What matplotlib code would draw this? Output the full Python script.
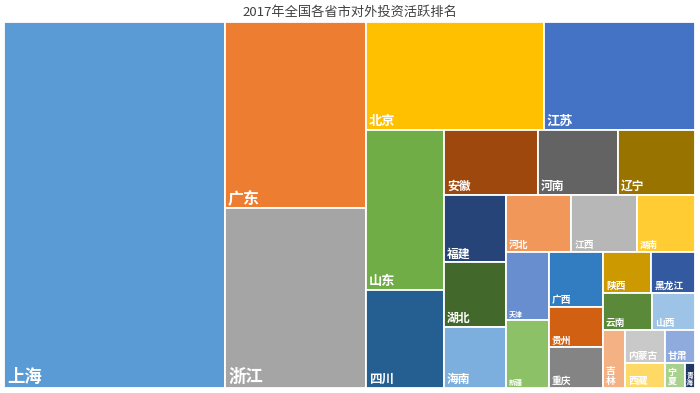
import matplotlib
matplotlib.use("Agg")
import matplotlib.pyplot as plt
from matplotlib.patches import Rectangle

plt.rcParams["font.family"] = ["Noto Sans CJK SC", "DejaVu Sans"]

# ── Data (roughly proportional to tile area) ─────────────────────────────────
provinces = ["上海", "广东", "浙江", "北京", "江苏", "山东", "四川", "安徽", "河南",
             "辽宁", "福建", "湖北", "海南", "河北", "江西", "湖南", "天津", "新疆",
             "广西", "贵州", "重庆", "陕西", "黑龙江", "云南", "山西", "吉林",
             "内蒙古", "甘肃", "西藏", "宁夏", "青海"]
values = [809, 262, 254, 192, 163, 125, 76, 61, 52,
          50, 42, 40, 38, 37, 37, 33, 29, 29,
          30, 22, 22, 20, 18, 18, 16, 13,
          13, 10, 10, 5, 2.5]

# Strip structure of the Excel treemap: tiles per strip and its direction
# ("V" = strip down the left side, "H" = strip across the top)
strip_counts = [1, 2, 2, 2, 3, 3, 3, 2, 3, 2, 2, 1, 2, 3]
strip_dirs = "VVHVHVHVVHHVHH"

# ── Style ─────────────────────────────────────────────────────────────────────
colors = ["#5B9BD5", "#ED7D31", "#A5A5A5", "#FFC000", "#4472C4", "#70AD47",
          "#255E91", "#9E480E", "#636363", "#997300", "#264478", "#43682B",
          "#7CAFDD", "#F1975A", "#B7B7B7", "#FFCD33", "#698ED0", "#8CC168",
          "#327DC2", "#D26012", "#848484", "#CC9A00", "#335AA1", "#5A8A39",
          "#9DC3E6", "#F4B183", "#C9C9C9", "#8FAADC", "#FFD966", "#A9D18E",
          "#203864"]
label_sizes = [12.5, 11.5, 12.5, 9.5, 9.5, 9.5, 9, 8.5, 8.5,
               8.5, 8.5, 8.5, 8.5, 7, 7, 6.5, 5, 5,
               7, 7, 7, 7, 7, 7, 7, 7,
               7, 7, 7, 6.5, 5]
vertical = {"吉林", "宁夏", "青海"}


# ── Strip treemap layout ──────────────────────────────────────────────────────
def strip_layout(sizes, counts, dirs, x, y, dx, dy):
    rects = []
    i = 0
    for n, d in zip(counts, dirs):
        group = sizes[i:i + n]
        i += n
        covered = sum(group)
        if d == "V":
            width = covered / dy
            yy = y
            for s in group:
                rects.append((x, yy, width, s / width))
                yy += s / width
            x, dx = x + width, dx - width
        else:
            height = covered / dx
            xx = x
            for s in group:
                rects.append((xx, y, s / height, height))
                xx += s / height
            y, dy = y + height, dy - height
    return rects


# ── Plot ──────────────────────────────────────────────────────────────────────
W, H = 691.0, 366.0
total = sum(values)
norm = [v * W * H / total for v in values]
rects = strip_layout(norm, strip_counts, strip_dirs, 0.0, 0.0, W, H)

fig = plt.figure(figsize=(7.0, 3.93), dpi=100)
ax = fig.add_axes([4 / 700, 5 / 393, W / 700, H / 393])
ax.set_xlim(0, W)
ax.set_ylim(H, 0)
ax.axis("off")

for (x, y, w, h), name, c, fs in zip(rects, provinces, colors, label_sizes):
    ax.add_patch(Rectangle((x, y), w, h, facecolor=c, edgecolor="white", lw=1.3))
    text = "\n".join(name) if name in vertical else name
    pad = min(3.0, w * 0.12)
    ax.text(x + pad, y + h - 2, text, color="white", fontsize=fs, fontweight="bold",
            ha="left", va="bottom", linespacing=1.05)

fig.text(0.5, 1 - 12 / 393, "2017年全国各省市对外投资活跃排名", ha="center", va="center",
         fontsize=9.5, color="#404040")

fig.savefig("out.png", dpi=100)
